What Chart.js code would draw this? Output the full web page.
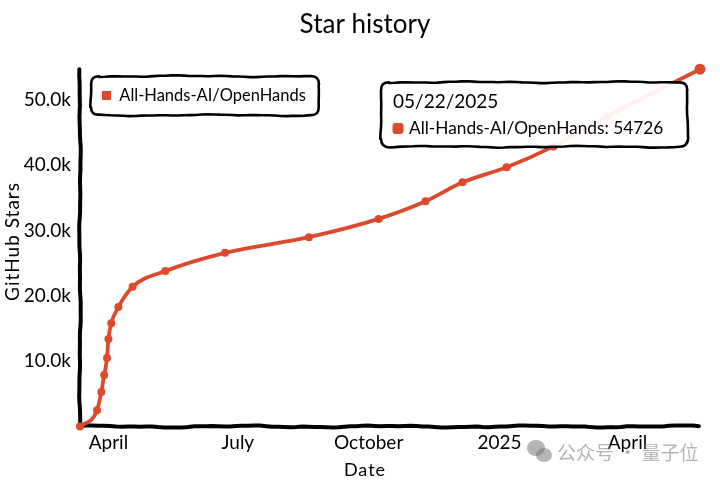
<!DOCTYPE html>
<html>
<head>
<meta charset="utf-8">
<script src="https://cdn.jsdelivr.net/npm/chart.js@4"></script>
<style>html,body{margin:0;padding:0;background:#fff}#w{width:720px;height:482px}</style>
</head>
<body>
<div id="w"><canvas id="c"></canvas></div>
<script>
const seriesName = 'All-Hands-AI/OpenHands';
const dates = ['2024-03-12','2024-03-24','2024-03-27','2024-03-29','2024-03-31','2024-04-01','2024-04-03','2024-04-08','2024-04-18','2024-05-11','2024-06-22','2024-08-20','2024-10-08','2024-11-10','2024-12-06','2025-01-06','2025-02-08','2025-03-18','2025-05-22'];
const stars = [0,2500,5300,7900,10500,13400,15800,18300,21400,23800,26600,29000,31800,34500,37400,39700,42900,47500,54726];
const tickDates = ['2024-04-01','2024-07-01','2024-10-01','2025-01-01','2025-04-01'];
const tickLabels = ['April','July','October','2025','April'];
const yTicks = [10000,20000,30000,40000,50000];
const titleText = 'Star history';
const xTitle = 'Date';
const yTitle = 'GitHub Stars';
const watermark = '公众号 · 量子位';

const RED = '#dc4a2d';
const FONT = 'Lato, "Noto Sans", sans-serif';
const t = s => Date.parse(s + 'T00:00:00Z');

function noise(v, k) {
  return Math.sin(v * 0.043 + k) * 0.9 + Math.sin(v * 0.117 + k * 2.3) * 0.55 + Math.sin(v * 0.29 + k * 0.7) * 0.25;
}
function wobblyLine(ctx, x0, y0, x1, y1, k, amp) {
  const len = Math.hypot(x1 - x0, y1 - y0), n = Math.max(2, Math.round(len / 6));
  const nx = -(y1 - y0) / len, ny = (x1 - x0) / len;
  for (let i = 0; i <= n; i++) {
    const f = i / n, d = noise(f * len, k) * amp;
    const x = x0 + (x1 - x0) * f + nx * d, y = y0 + (y1 - y0) * f + ny * d;
    if (i === 0 && ctx.__start) ctx.moveTo(x, y); else ctx.lineTo(x, y);
    ctx.__start = false;
  }
}
function wobblyBox(ctx, x, y, w, h, fill) {
  const r = 8, amp = 0.6;
  ctx.save();
  ctx.beginPath();
  ctx.__start = true;
  wobblyLine(ctx, x + r, y, x + w - r, y, 1.1, amp);
  ctx.quadraticCurveTo(x + w, y, x + w, y + r);
  wobblyLine(ctx, x + w, y + r, x + w, y + h - r, 2.4, amp);
  ctx.quadraticCurveTo(x + w, y + h, x + w - r, y + h);
  wobblyLine(ctx, x + w - r, y + h, x + r, y + h, 3.7, amp);
  ctx.quadraticCurveTo(x, y + h, x, y + h - r);
  wobblyLine(ctx, x, y + h - r, x, y + r, 5.2, amp);
  ctx.quadraticCurveTo(x, y, x + r, y);
  ctx.closePath();
  ctx.fillStyle = fill;
  ctx.fill();
  ctx.lineWidth = 2.6;
  ctx.lineJoin = 'round';
  ctx.strokeStyle = '#000';
  ctx.stroke();
  ctx.restore();
}
// Axis titles are centred on the whole figure rather than the plot, with a little tracking.
function styleTitle(s, spacing, horizontalSpan) {
  if (s.__wrapped) return;
  s.__wrapped = true;
  const orig = s.drawTitle;
  s.drawTitle = function () {
    const ctx = this.ctx, l = this.left, r = this.right, tp = this.top, b = this.bottom;
    if (horizontalSpan) { this.left = horizontalSpan[0]; this.right = horizontalSpan[1]; }
    else { this.top = 183; this.bottom = 300; }
    ctx.save();
    ctx.letterSpacing = spacing;
    orig.call(this);
    ctx.restore();
    this.left = l; this.right = r; this.top = tp; this.bottom = b;
  };
}

Chart.Tooltip.positioners.fixedCorner = function () {
  const a = this.chart.chartArea;
  return { x: a.right - 311, y: a.top + 13 };
};

const sketch = {
  id: 'sketch',
  afterLayout(chart) {
    const a = chart.chartArea, l = chart.legend;
    l.left = a.left + 11; l.right = a.left + 239;
    l.top = a.top + 7; l.bottom = a.top + 46;
    l.width = 228; l.height = 39;
    chart.titleBlock.left = 0; chart.titleBlock.right = 730;
  },
  beforeDraw(chart) {
    const { ctx, chartArea: a } = chart;
    wobblyBox(ctx, a.left + 11, a.top + 7, 228, 39, '#fff');
    ctx.save();
    ctx.lineCap = 'round';
    ctx.strokeStyle = '#000';
    ctx.lineWidth = 4;
    ctx.beginPath(); ctx.__start = true;
    wobblyLine(ctx, a.left, a.top, a.left, a.bottom, 0.6, 0.55);
    ctx.stroke();
    ctx.beginPath(); ctx.__start = true;
    wobblyLine(ctx, a.left, a.bottom, a.right - 1, a.bottom, 4.1, 0.75);
    ctx.stroke();
    ctx.restore();
  },
  afterDraw(chart) {
    const { ctx } = chart;
    ctx.save();
    ctx.fillStyle = 'rgba(120,120,120,0.55)';
    ctx.font = '19px "Noto Sans CJK SC"';
    ctx.textBaseline = 'middle';
    ctx.textAlign = 'left';
    ctx.fillText(watermark, 557, 453);
    ctx.beginPath(); ctx.ellipse(536, 448, 9, 8, 0, 0, Math.PI * 2); ctx.fill();
    ctx.beginPath(); ctx.ellipse(544, 455, 8, 7, 0, 0, Math.PI * 2); ctx.fill();
    ctx.restore();
  },
  beforeTooltipDraw(chart, args) {
    const tip = args.tooltip;
    wobblyBox(chart.ctx, tip.x, tip.y, tip.width, tip.height, 'rgba(255,255,255,0.93)');
  }
};

const chart = new Chart(document.getElementById('c'), {
  type: 'line',
  data: {
    datasets: [{
      label: seriesName,
      data: dates.map((d, i) => ({ x: t(d), y: stars[i] })),
      borderColor: RED,
      backgroundColor: RED,
      borderWidth: 3.8,
      pointRadius: 4,
      pointHoverRadius: 5.5,
      pointBackgroundColor: RED,
      pointBorderColor: RED,
      pointHoverBackgroundColor: RED,
      pointHoverBorderColor: RED,
      pointBorderWidth: 0,
      pointHoverBorderWidth: 0,
      cubicInterpolationMode: 'monotone',
      clip: false
    }]
  },
  plugins: [sketch],
  options: {
    responsive: true,
    maintainAspectRatio: false,
    animation: false,
    events: [],
    layout: { padding: { right: 20 } },
    scales: {
      x: {
        type: 'linear',
        min: t(dates[0]),
        max: t(dates[dates.length - 1]),
        grid: { display: false, drawTicks: false },
        border: { display: false },
        afterBuildTicks(s) { s.ticks = tickDates.map(d => ({ value: t(d) })); styleTitle(s, '1px', [0, 730]); },
        afterFit(s) { s.height = 55.5; },
        ticks: {
          autoSkip: false, maxRotation: 0, padding: 5, color: '#000',
          font: { family: FONT, size: 19 },
          callback: v => tickLabels[tickDates.findIndex(d => t(d) === v)]
        },
        title: { display: true, text: xTitle, color: '#000', font: { family: FONT, size: 18 }, padding: { top: 0, bottom: 1 } }
      },
      y: {
        min: 0,
        max: stars[stars.length - 1],
        grid: { display: false, drawTicks: false },
        border: { display: false },
        afterBuildTicks(s) { s.ticks = yTicks.map(v => ({ value: v })); styleTitle(s, '1px', null); },
        afterFit(s) { s.width = 80; },
        ticks: {
          padding: 9, color: '#000',
          font: { family: FONT, size: 19 },
          callback: v => (v / 1000).toFixed(1) + 'k'
        },
        title: { display: true, text: yTitle, color: '#000', font: { family: FONT, size: 19 }, padding: { top: 1, bottom: 0 } }
      }
    },
    plugins: {
      title: {
        display: true, text: titleText, color: '#000',
        font: { family: FONT, size: 26, weight: 'normal' },
        padding: { top: 9, bottom: 29 }
      },
      legend: {
        position: 'chartArea',
        align: 'start',
        labels: {
          color: '#000', font: { family: FONT, size: 16.5 },
          boxWidth: 9, boxHeight: 9, padding: 11,
          generateLabels(c) {
            return Chart.defaults.plugins.legend.labels.generateLabels(c).map(i => Object.assign(i, { lineWidth: 0 }));
          }
        }
      },
      tooltip: {
        enabled: true,
        position: 'fixedCorner',
        xAlign: 'left', yAlign: 'top',
        caretSize: 0, caretPadding: 0, cornerRadius: 8,
        backgroundColor: 'rgba(0,0,0,0)',
        titleColor: '#000', bodyColor: '#000',
        multiKeyBackground: RED,
        titleFont: { family: FONT, size: 19, weight: 'normal' },
        bodyFont: { family: FONT, size: 17.3 },
        titleMarginBottom: 5,
        padding: { left: 12, right: 24, top: 8, bottom: 8 },
        boxWidth: 10, boxHeight: 10, boxPadding: 4,
        callbacks: {
          title(items) {
            const d = new Date(items[0].parsed.x);
            const p = n => String(n).padStart(2, '0');
            return p(d.getUTCMonth() + 1) + '/' + p(d.getUTCDate()) + '/' + d.getUTCFullYear();
          },
          label: it => it.dataset.label + ': ' + it.parsed.y,
          labelColor: () => ({ borderColor: RED, backgroundColor: RED, borderWidth: 0, borderRadius: 2 })
        }
      }
    }
  }
});
const last = dates.length - 1;
const el = [{ datasetIndex: 0, index: last }];
chart.setActiveElements(el);
chart.tooltip.setActiveElements(el, { x: 0, y: 0 });
chart.update();
</script>
</body>
</html>
